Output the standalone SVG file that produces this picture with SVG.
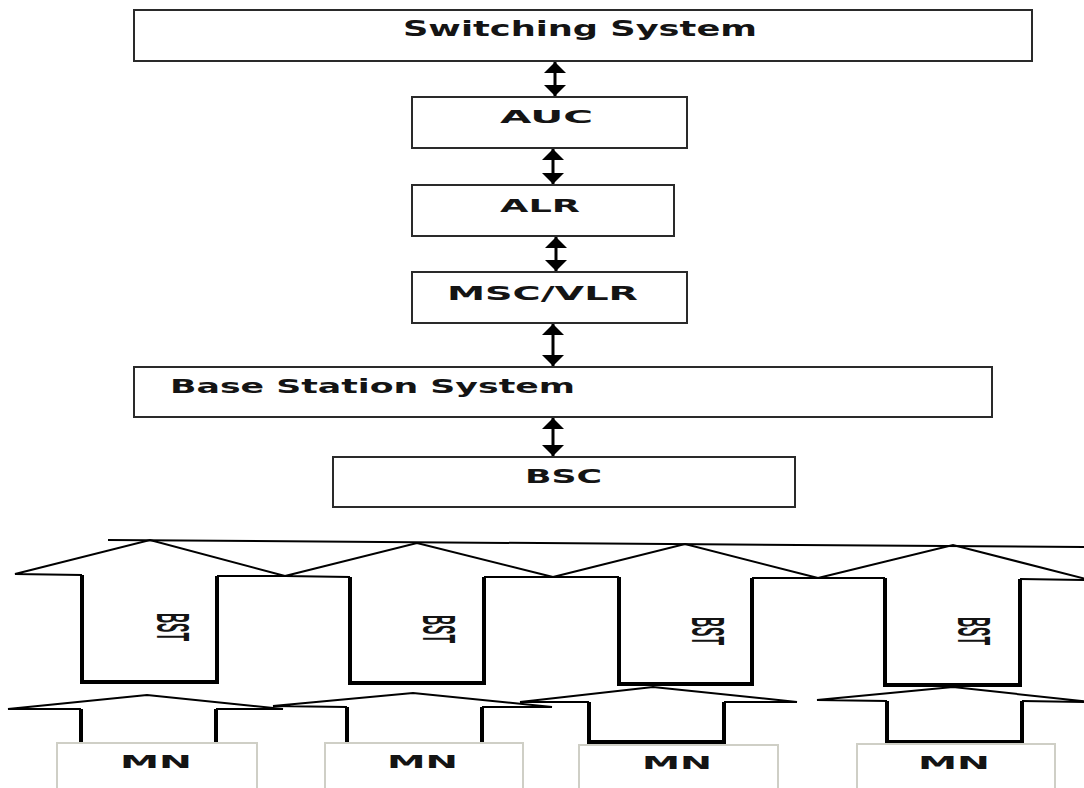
<svg xmlns="http://www.w3.org/2000/svg" width="1084" height="788" viewBox="0 0 1084 788">
  <style>
    .box { fill: #ffffff; stroke: #2a2a2a; stroke-width: 2; }
    .mnbox { fill: #ffffff; stroke: #cfcfc6; stroke-width: 2; }
    .lbl { font-family: "DejaVu Sans", Verdana, sans-serif; font-weight: bold; fill: #141414; }
    .bst { font-family: "Liberation Sans", Arial, sans-serif; font-size: 14px; font-weight: bold; fill: #141414; }
    .conn { stroke: #000000; stroke-width: 3; fill: none; }
    .head { fill: none; stroke: #000000; stroke-width: 2; stroke-linejoin: miter; }
    .shaft { fill: none; stroke: #000000; stroke-width: 4; stroke-linejoin: miter; }
  </style>
  <defs>
    <marker id="ah" viewBox="0 0 10 10" refX="10" refY="5" markerWidth="11" markerHeight="22" markerUnits="userSpaceOnUse" orient="auto-start-reverse" preserveAspectRatio="none">
      <path d="M0,0 L10,5 L0,10 z" fill="#000000"/>
    </marker>
  </defs>
  <rect width="1084" height="788" fill="#ffffff"/>

  <g id="connectors">
    <line class="conn" x1="555" y1="62" x2="555" y2="96" marker-start="url(#ah)" marker-end="url(#ah)"/>
    <line class="conn" x1="553" y1="149" x2="553" y2="184" marker-start="url(#ah)" marker-end="url(#ah)"/>
    <line class="conn" x1="556" y1="237" x2="556" y2="271" marker-start="url(#ah)" marker-end="url(#ah)"/>
    <line class="conn" x1="553" y1="324" x2="553" y2="366" marker-start="url(#ah)" marker-end="url(#ah)"/>
    <line class="conn" x1="553" y1="418" x2="553" y2="456" marker-start="url(#ah)" marker-end="url(#ah)"/>
  </g>

  <g id="switching-system">
    <rect class="box" x="134" y="10" width="898" height="51"/>
    <text class="lbl" x="403" y="36" font-size="21" textLength="354" lengthAdjust="spacingAndGlyphs">Switching System</text>
  </g>
  <g id="auc">
    <rect class="box" x="412" y="97" width="275" height="51"/>
    <text class="lbl" x="500" y="123" font-size="18" textLength="93" lengthAdjust="spacingAndGlyphs">AUC</text>
  </g>
  <g id="alr">
    <rect class="box" x="412" y="185" width="262" height="51"/>
    <text class="lbl" x="500" y="212" font-size="18" textLength="80" lengthAdjust="spacingAndGlyphs">ALR</text>
  </g>
  <g id="msc-vlr">
    <rect class="box" x="412" y="272" width="275" height="51"/>
    <text class="lbl" x="447" y="300" font-size="19" textLength="191" lengthAdjust="spacingAndGlyphs">MSC/VLR</text>
  </g>
  <g id="base-station-system">
    <rect class="box" x="134" y="367" width="858" height="50"/>
    <text class="lbl" x="170" y="393" font-size="20" textLength="405" lengthAdjust="spacingAndGlyphs">Base Station System</text>
  </g>
  <g id="bsc">
    <rect class="box" x="333" y="457" width="462" height="50"/>
    <text class="lbl" x="525" y="483" font-size="20" textLength="77" lengthAdjust="spacingAndGlyphs">BSC</text>
  </g>

  <g id="top-line">
    <line x1="108" y1="540" x2="1084" y2="547" stroke="#000000" stroke-width="2"/>
  </g>

  <g id="bst-1">
    <polyline class="head" points="82,575 15,574 150,540 285,576 217,576"/>
    <polyline class="shaft" points="82,575 82,682 217,682 217,576"/>
    <text class="bst" transform="translate(157,613) scale(3.3,1) rotate(90)">BST</text>
  </g>
  <g id="bst-2">
    <polyline class="head" points="350,577 285,576 417,543 553,577 484,577"/>
    <polyline class="shaft" points="350,577 350,683 484,683 484,577"/>
    <text class="bst" transform="translate(423,615) scale(3.3,1) rotate(90)">BST</text>
  </g>
  <g id="bst-3">
    <polyline class="head" points="619,577 553,577 685,544 818,578 752,578"/>
    <polyline class="shaft" points="619,577 619,684 752,684 752,578"/>
    <text class="bst" transform="translate(692,617) scale(3.3,1) rotate(90)">BST</text>
  </g>
  <g id="bst-4">
    <polyline class="head" points="885,578 818,578 953,545 1090,580 1020,579"/>
    <polyline class="shaft" points="885,578 885,685 1020,685 1020,579"/>
    <text class="bst" transform="translate(958,617) scale(3.3,1) rotate(90)">BST</text>
  </g>

  <g id="mn-arrow-1">
    <polyline class="head" points="81,709 8,709 147,695 283,709 216,709"/>
    <polyline class="shaft" points="81,709 81,743"/>
    <polyline class="shaft" points="216,709 216,743"/>
  </g>
  <g id="mn-arrow-2">
    <polyline class="head" points="347,707 273,706 413,693 552,707 482,707"/>
    <polyline class="shaft" points="347,707 347,743"/>
    <polyline class="shaft" points="482,707 482,743"/>
  </g>
  <g id="mn-arrow-3">
    <polyline class="head" points="589,702 520,702 653,687 797,702 724,702"/>
    <polyline class="shaft" points="589,702 589,742 724,742 724,702"/>
  </g>
  <g id="mn-arrow-4">
    <polyline class="head" points="887,701 817,700 953,687 1090,702 1022,701"/>
    <polyline class="shaft" points="887,701 887,742 1022,742 1022,701"/>
  </g>

  <g id="mn-1">
    <rect class="mnbox" x="57" y="743" width="200" height="60"/>
    <text class="lbl" x="120" y="768" font-size="18" textLength="72" lengthAdjust="spacingAndGlyphs">MN</text>
  </g>
  <g id="mn-2">
    <rect class="mnbox" x="325" y="743" width="198" height="60"/>
    <text class="lbl" x="387" y="768" font-size="18" textLength="71" lengthAdjust="spacingAndGlyphs">MN</text>
  </g>
  <g id="mn-3">
    <rect class="mnbox" x="579" y="745" width="199" height="60"/>
    <text class="lbl" x="642" y="769" font-size="18" textLength="70" lengthAdjust="spacingAndGlyphs">MN</text>
  </g>
  <g id="mn-4">
    <rect class="mnbox" x="857" y="744" width="198" height="60"/>
    <text class="lbl" x="918" y="769" font-size="18" textLength="72" lengthAdjust="spacingAndGlyphs">MN</text>
  </g>
</svg>
